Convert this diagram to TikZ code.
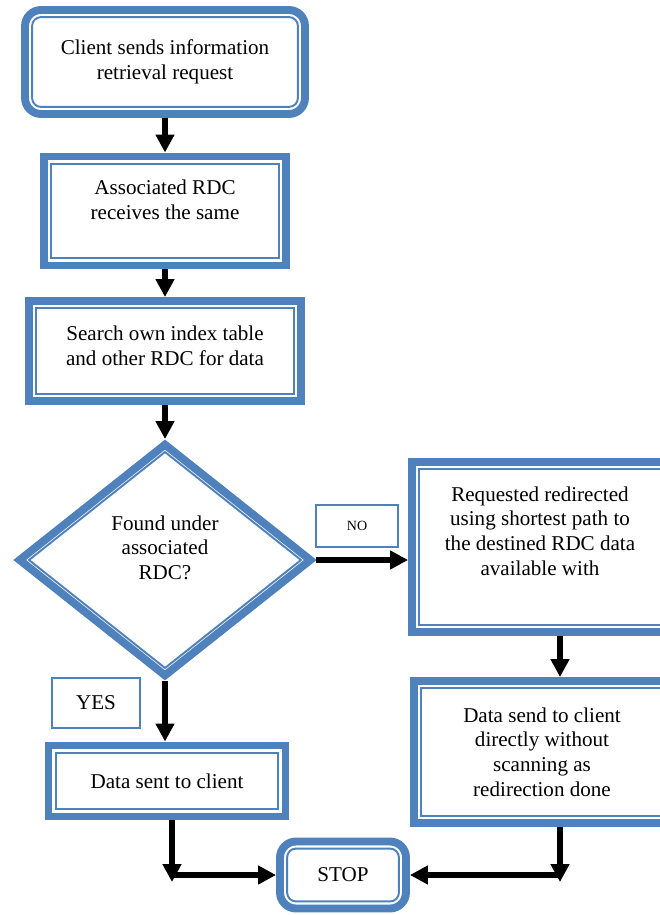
\documentclass[tikz,border=0pt]{standalone}
\usepackage{fontspec}
\setmainfont{Liberation Serif}
\usepackage{tikz}
\usetikzlibrary{arrows.meta,shapes.geometric,calc}
\definecolor{rdcblue}{RGB}{79,129,189}

\begin{document}
\begin{tikzpicture}[
  x=0.02cm, y=-0.02cm,
  font=\fontsize{12}{14}\selectfont,
  flowbox/.style={draw=rdcblue, line width=4.5pt, fill=white, inner sep=0pt, align=center},
  roundbox/.style={flowbox, rounded corners=0.32cm},
  decision/.style={flowbox, diamond, minimum width=5.88cm, minimum height=4.68cm},
  boxtext/.style={align=center, font=\fontsize{12}{14}\selectfont},
  innerline/.style={draw=rdcblue, line width=1.1pt},
  answer/.style={draw=rdcblue, line width=1.1pt, fill=white},
  arrow/.style={-{Triangle[length=0.36cm, width=0.36cm]}, line width=3.3pt}
]
\useasboundingbox (0,0) rectangle (659,915);

\node[roundbox, minimum width=5.6cm, minimum height=2.08cm] (client) at (165,62) {Client sends information\\retrieval request};
\node[flowbox, minimum width=4.84cm, minimum height=2.18cm,
  label={[boxtext, yshift=0.23cm]center:{Associated RDC\\receives the same}}] (receive) at (165,211) {};
\node[flowbox, minimum width=5.44cm, minimum height=2cm,
  label={[boxtext, yshift=0.11cm]center:{Search own index table\\and other RDC for data}}] (search) at (165,351) {};
\node[decision, label={[boxtext, yshift=0.25cm]center:{Found under\\associated\\RDC?}}] (found) at (165,560) {};
\node[flowbox, minimum width=5.16cm, minimum height=3.4cm,
  label={[boxtext, yshift=0.32cm, xshift=-0.02cm]center:{Requested redirected\\using shortest path to\\the destined RDC data\\available with}}] (redirect) at (541,547) {};
\node[flowbox, minimum width=5.12cm, minimum height=2.84cm] (direct) at (542,752) {Data send to client\\directly without\\scanning as\\redirection done};
\node[flowbox, minimum width=4.74cm, minimum height=1.42cm] (sent) at (167,781) {Data sent to client};
\node[roundbox, minimum width=2.52cm, minimum height=1.34cm] (stop) at (343,875) {STOP};
\node[answer, minimum width=1.64cm, minimum height=0.84cm, font=\fontsize{8}{9}\selectfont] (no) at (357,526) {NO};
\node[answer, minimum width=1.76cm, minimum height=1cm] (yes) at (96,703) {YES};

\foreach \n in {receive,search,redirect,direct,sent}
  \draw[innerline] ([shift={(11,-11)}]\n.south west) rectangle ([shift={(-11,11)}]\n.north east);
\foreach \n in {client,stop}
  \draw[innerline, rounded corners=0.18cm] ([shift={(11,-11)}]\n.south west) rectangle ([shift={(-11,11)}]\n.north east);
\draw[innerline] ($(found)+(0,-108)$) -- ($(found)+(136,0)$) -- ($(found)+(0,108)$) -- ($(found)+(-136,0)$) -- cycle;

\coordinate (jl) at (172,882);
\coordinate (jr) at (560,882);

\draw[arrow] (client) -- (receive);
\draw[arrow] (receive) -- (search);
\draw[arrow] (search) -- (found);
\draw[arrow] (found.east) -- (found.east -| redirect.west);
\draw[arrow] (found.south) -- (found.south |- sent.north);
\draw[arrow] (redirect.south -| jr) -- (direct.north -| jr);
\draw[arrow] (sent.south -| jl) -- (jl);
\draw[arrow] (jl |- stop) -- (stop.west);
\draw[arrow] (direct.south -| jr) -- (jr);
\draw[arrow] (jr |- stop) -- (stop.east);
\end{tikzpicture}
\end{document}
